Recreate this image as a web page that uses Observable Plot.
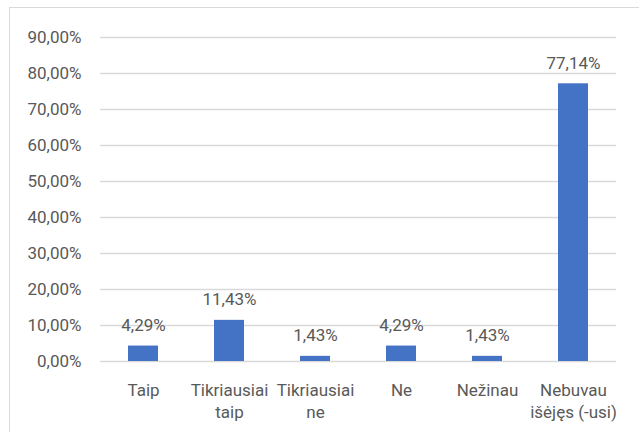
<!DOCTYPE html>
<html>
<head>
<meta charset="utf-8">
<script src="https://cdn.jsdelivr.net/npm/d3@7"></script>
<script src="https://cdn.jsdelivr.net/npm/@observablehq/plot@0.6"></script>
<style>
  html, body { margin: 0; padding: 0; background: #fff; overflow: hidden; }
  #wrap { position: relative; width: 639px; height: 432px; }
  #frame { position: absolute; left: 9px; top: 7px; width: 700px; height: 500px; border: 1px solid #d9d9d9; box-sizing: border-box; }
  #chart { position: absolute; left: 0; top: 0; width: 639px; }
</style>
</head>
<body>
<div id="wrap"><div id="frame"></div><div id="chart"></div></div>
<script>
const categories = ["Taip", "Tikriausiai\ntaip", "Tikriausiai\nne", "Ne", "Nežinau", "Nebuvau\nišėjęs (-usi)"];
const values = [0.0429, 0.1143, 0.0143, 0.0429, 0.0143, 0.7714];
const yTicks = [0, 0.1, 0.2, 0.3, 0.4, 0.5, 0.6, 0.7, 0.8, 0.9];

const data = categories.map((c, i) => ({cat: c, v: values[i]}));
const pct = d3.format(".2%");
const fmt = v => pct(v).replace(".", ",");

const chart = Plot.plot({
  width: 639,
  height: 432,
  marginLeft: 100,
  marginRight: 23,
  marginTop: 37,
  marginBottom: 71,
  style: {fontFamily: "Roboto, sans-serif", fontSize: "17px", color: "#595959", background: "transparent", overflow: "visible"},
  x: {domain: categories, paddingInner: 0.65, paddingOuter: 0.325, label: null},
  y: {domain: [0, 0.9], label: null},
  marks: [
    Plot.ruleY(yTicks, {stroke: "#d9d9d9", strokeWidth: 1.3}),
    Plot.barY(data, {x: "cat", y: "v", fill: "#4472C4"}),
    Plot.text(data, {x: "cat", y: "v", text: d => fmt(d.v), lineAnchor: "bottom", dy: -15, fill: "#595959", fontSize: 17}),
    Plot.axisX({tickSize: 0, tickPadding: 19, label: null, lineHeight: 1.29, fill: "#595959", fontSize: 17}),
    Plot.axisY({ticks: yTicks, tickFormat: fmt, tickSize: 0, tickPadding: 19, label: null, fill: "#595959", fontSize: 17})
  ]
});
document.getElementById("chart").appendChild(chart);
</script>
</body>
</html>
